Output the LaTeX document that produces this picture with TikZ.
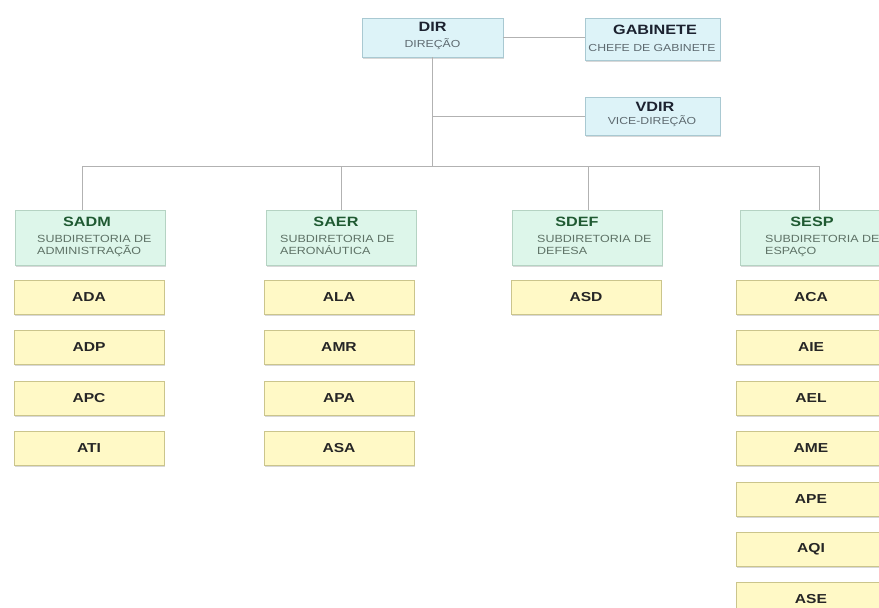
\documentclass[tikz,border=0pt]{standalone}
\usepackage{fontspec}
\setmainfont{Liberation Sans}
\newfontfamily\wf[FakeStretch=1.2]{Liberation Sans}
\usetikzlibrary{shadows}
\definecolor{topfill}{HTML}{DDF3F8}
\definecolor{topdraw}{HTML}{A9C9D2}
\definecolor{subfill}{HTML}{DDF6EA}
\definecolor{subdraw}{HTML}{B5D3C3}
\definecolor{leaffill}{HTML}{FFF9C6}
\definecolor{leafdraw}{HTML}{CBC58C}
\definecolor{linegray}{HTML}{B2B2B2}
\definecolor{titlenavy}{HTML}{1C2230}
\definecolor{subgray}{HTML}{5E6A70}
\definecolor{greentitle}{HTML}{1F5A32}
\definecolor{greensub}{HTML}{5E7266}
\tikzset{
  box/.style={rectangle, inner sep=0pt, line width=0.8pt,
    drop shadow={shadow xshift=1.2pt, shadow yshift=-1.5pt, opacity=0.3}},
  topbox/.style={box, fill=topfill, draw=topdraw},
  subbox/.style={box, fill=subfill, draw=subdraw, minimum width=150pt, minimum height=55pt},
  leafbox/.style={box, fill=leaffill, draw=leafdraw, minimum width=150pt, minimum height=34pt,
    font=\wf\fontsize{13}{15}\selectfont\bfseries, text=black!85},
  toptitle/.style={font=\wf\fontsize{13.5}{15}\selectfont\bfseries, text=titlenavy, inner sep=0pt},
  topsub/.style={font=\wf\fontsize{10.2}{12}\selectfont, text=subgray, inner sep=0pt},
  grntitle/.style={font=\wf\fontsize{13.5}{15}\selectfont\bfseries, text=greentitle, inner sep=0pt},
  grnsub/.style={font=\wf\fontsize{10.4}{12}\selectfont, text=greensub, inner sep=0pt, align=left, anchor=north west},
  conn/.style={draw=linegray, line width=0.9pt},
}
\begin{document}
\begin{tikzpicture}[x=1pt,y=-1pt]
\useasboundingbox (0,0) rectangle (879,608);
\fill[white] (0,0) rectangle (879,608);

% top level
\node[topbox, minimum width=141pt, minimum height=39pt] (dir) at (432.5,37.5) {};
\node[topbox, minimum width=135pt, minimum height=42pt] (gab) at (652.5,39) {};
\node[topbox, minimum width=135pt, minimum height=38pt] (vdir) at (652.5,116) {};
\node[toptitle] (dirT) at (432.5,27) {DIR};
\node[topsub] (dirS) at (432.5,44.5) {DIREÇÃO};
\node[toptitle] (gabT) at (655,30) {GABINETE};
\node[topsub] (gabS) at (652,47.5) {CHEFE DE GABINETE};
\node[toptitle] (vdirT) at (655,107) {VDIR};
\node[topsub] (vdirS) at (652,121) {VICE-DIREÇÃO};

% subdiretorias
\node[subbox] (sadm) at (90,237.5) {};
\node[subbox] (saer) at (341,237.5) {};
\node[subbox] (sdef) at (587,237.5) {};
\node[subbox] (sesp) at (815,237.5) {};
\node[grntitle] (sadmT) at (87,222) {SADM};
\node[grntitle] (saerT) at (336,222) {SAER};
\node[grntitle] (sdefT) at (577,222) {SDEF};
\node[grntitle] (sespT) at (812,222) {SESP};
\node[grnsub] (sadmS) at (37,235) {SUBDIRETORIA DE\\ADMINISTRAÇÃO};
\node[grnsub] (saerS) at (280,235) {SUBDIRETORIA DE\\AERONÁUTICA};
\node[grnsub] (sdefS) at (537,235) {SUBDIRETORIA DE\\DEFESA};
\node[grnsub] (sespS) at (765,235) {SUBDIRETORIA DE\\ESPAÇO};

% leaves column 1
\node[leafbox] (ada) at (89,297) {ADA};
\node[leafbox] (adp) at (89,347.5) {ADP};
\node[leafbox] (apc) at (89,398.5) {APC};
\node[leafbox] (ati) at (89,448.5) {ATI};
% column 2
\node[leafbox] (ala) at (339,297) {ALA};
\node[leafbox] (amr) at (339,347.5) {AMR};
\node[leafbox] (apa) at (339,398.5) {APA};
\node[leafbox] (asa) at (339,448.5) {ASA};
% column 3
\node[leafbox] (asd) at (586,297) {ASD};
% column 4
\node[leafbox] (aca) at (811,297) {ACA};
\node[leafbox] (aie) at (811,347.5) {AIE};
\node[leafbox] (ael) at (811,398.5) {AEL};
\node[leafbox] (ame) at (811,448.5) {AME};
\node[leafbox] (ape) at (811,499.5) {APE};
\node[leafbox] (aqi) at (811,549.5) {AQI};
\node[leafbox] (ase) at (811,599.5) {ASE};

% connectors
\coordinate (bus) at (432.5,166);
\coordinate (b1) at (82,166);
\coordinate (b2) at (341,166);
\coordinate (b3) at (588,166);
\coordinate (b4) at (819,166);
\draw[conn] (dir.east) -- (gab.west |- dir.east);
\draw[conn] (dir.south) -- (bus);
\draw[conn] (dir.south |- vdir.west) -- (vdir.west);
\draw[conn] (b1) -- (b4);
\draw[conn] (b1) -- (b1 |- sadm.north);
\draw[conn] (b2) -- (b2 |- saer.north);
\draw[conn] (b3) -- (b3 |- sdef.north);
\draw[conn] (b4) -- (b4 |- sesp.north);
\end{tikzpicture}
\end{document}
